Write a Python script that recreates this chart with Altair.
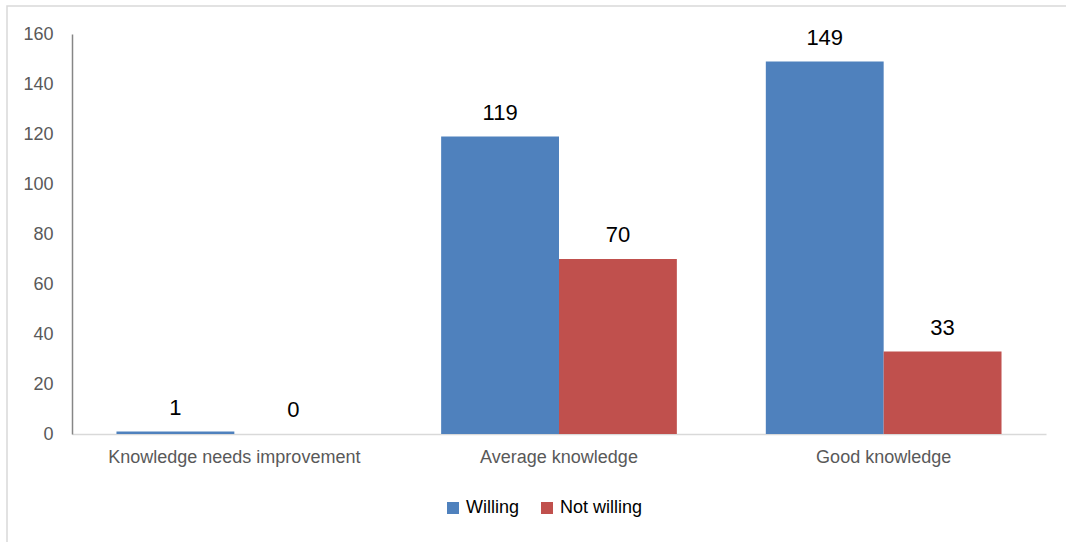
import altair as alt
import pandas as pd

# Knowledge level vs. willingness counts
categories = ["Knowledge needs improvement", "Average knowledge", "Good knowledge"]
series = ["Willing", "Not willing"]
willing = [1, 119, 149]
not_willing = [0, 70, 33]
colors = ["#4F81BD", "#C0504D"]
y_ticks = [0, 20, 40, 60, 80, 100, 120, 140, 160]

rows = []
for cat, w, n in zip(categories, willing, not_willing):
    rows.append({"category": cat, "series": "Willing", "value": w})
    rows.append({"category": cat, "series": "Not willing", "value": n})
df = pd.DataFrame(rows)

FONT = "Liberation Sans"

x_enc = alt.X(
    "category:N",
    sort=categories,
    scale=alt.Scale(paddingInner=0.274, paddingOuter=0.137),
    axis=alt.Axis(
        title=None, labelAngle=0, ticks=False, domainColor="#d9d9d9",
        domainWidth=1.5, labelFontSize=18, labelColor="#595959",
        labelPadding=14, labelFont=FONT, labelLimit=0,
    ),
)
xoff_enc = alt.XOffset("series:N", sort=series, scale=alt.Scale(paddingInner=0, paddingOuter=0))
y_enc = alt.Y(
    "value:Q",
    scale=alt.Scale(domain=[0, 160], nice=False),
    axis=alt.Axis(
        title=None, values=y_ticks, ticks=False, grid=False,
        domainColor="#868686", domainWidth=1.5, labelFontSize=18,
        labelColor="#595959", labelPadding=19, labelFont=FONT,
    ),
)

base = alt.Chart(df)

bars = base.mark_bar().encode(
    x=x_enc,
    xOffset=xoff_enc,
    y=y_enc,
    color=alt.Color(
        "series:N",
        sort=series,
        scale=alt.Scale(domain=series, range=colors),
        legend=alt.Legend(
            title=None, orient="none", direction="horizontal",
            legendX=372, legendY=465, symbolType="square", symbolSize=144,
            symbolStrokeWidth=0, labelFontSize=18, labelColor="#000000",
            labelFont=FONT, labelOffset=4, columnPadding=18, padding=0,
        ),
    ),
)

labels = base.mark_text(
    baseline="alphabetic", dy=-17, fontSize=22, color="#000000", font=FONT
).encode(
    x=x_enc,
    xOffset=xoff_enc,
    y=alt.Y("value:Q"),
    text=alt.Text("value:Q"),
)

frame = alt.Chart(pd.DataFrame({"k": [0]})).mark_rect(
    fillOpacity=0, stroke="#d9d9d9", strokeWidth=1.5
).encode(
    x=alt.value(-65), x2=alt.value(1200), y=alt.value(-28), y2=alt.value(700)
)

chart = (
    alt.layer(frame, bars, labels)
    .properties(
        width=974,
        height=400,
        autosize=alt.AutoSizeParams(type="none"),
        padding={"left": 72, "top": 34, "right": 20, "bottom": 108},
        background="white",
    )
    .configure_view(stroke=None)
)

chart.save("out.html", embed_options={"renderer": "svg", "actions": False})
